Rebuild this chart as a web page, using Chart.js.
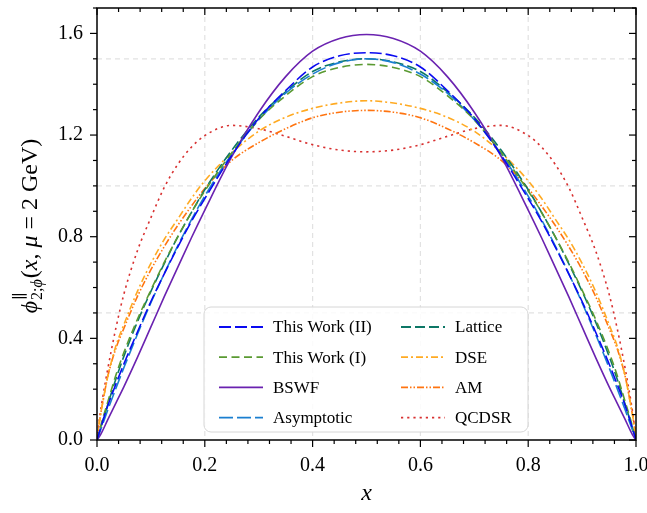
<!DOCTYPE html>
<html>
<head>
<meta charset="utf-8">
<script src="https://cdn.jsdelivr.net/npm/chart.js@4.4.0/dist/chart.umd.min.js"></script>
<style>
  html, body { margin: 0; padding: 0; background: #fff; }
  #wrap { width: 647px; height: 513px; position: relative; }
</style>
</head>
<body>
<div id="wrap"><canvas id="myChart"></canvas></div>
<script>
// ---- valores (x en [0,1]) ----
const xValues = [0, 0.005, 0.01, 0.02, 0.035, 0.05, 0.075, 0.1, 0.125, 0.15, 0.175, 0.2, 0.25, 0.3, 0.35, 0.4, 0.45, 0.5,
    0.55, 0.6, 0.65, 0.7, 0.75, 0.8, 0.825, 0.85, 0.875, 0.9, 0.925, 0.95, 0.965, 0.98, 0.99, 0.995, 1];

const thisWork2 = [0, 0.035, 0.07, 0.135, 0.22, 0.30, 0.425, 0.545, 0.655, 0.76, 0.86, 0.95, 1.12, 1.265, 1.375, 1.468, 1.512, 1.524,
    1.512, 1.468, 1.375, 1.265, 1.12, 0.95, 0.86, 0.76, 0.655, 0.545, 0.425, 0.30, 0.22, 0.135, 0.07, 0.035, 0];
const thisWork1 = [0, 0.04, 0.08, 0.15, 0.255, 0.345, 0.475, 0.59, 0.70, 0.80, 0.895, 0.98, 1.13, 1.26, 1.355, 1.43, 1.466, 1.478,
    1.466, 1.43, 1.355, 1.26, 1.13, 0.98, 0.895, 0.80, 0.70, 0.59, 0.475, 0.345, 0.255, 0.15, 0.08, 0.04, 0];
const bswf = [0, 0.015, 0.035, 0.08, 0.145, 0.21, 0.325, 0.445, 0.565, 0.68, 0.795, 0.905, 1.115, 1.29, 1.43, 1.53, 1.58, 1.596,
    1.58, 1.53, 1.43, 1.29, 1.115, 0.905, 0.795, 0.68, 0.565, 0.445, 0.325, 0.21, 0.145, 0.08, 0.035, 0.015, 0];
const asymptotic = [0, 0.03, 0.059, 0.118, 0.203, 0.285, 0.416, 0.54, 0.656, 0.765, 0.866, 0.96, 1.125, 1.26, 1.365, 1.44, 1.485, 1.50,
    1.485, 1.44, 1.365, 1.26, 1.125, 0.96, 0.866, 0.765, 0.656, 0.54, 0.416, 0.285, 0.203, 0.118, 0.059, 0.03, 0];
const lattice = [0, 0.035, 0.07, 0.14, 0.24, 0.33, 0.465, 0.585, 0.695, 0.80, 0.895, 0.985, 1.14, 1.27, 1.37, 1.45, 1.488, 1.50,
    1.488, 1.45, 1.37, 1.27, 1.14, 0.985, 0.895, 0.80, 0.695, 0.585, 0.465, 0.33, 0.24, 0.14, 0.07, 0.035, 0];
const dse = [0, 0.08, 0.14, 0.25, 0.37, 0.455, 0.585, 0.695, 0.79, 0.87, 0.95, 1.02, 1.13, 1.215, 1.27, 1.305, 1.326, 1.335,
    1.326, 1.305, 1.27, 1.215, 1.13, 1.02, 0.95, 0.87, 0.79, 0.695, 0.585, 0.455, 0.37, 0.25, 0.14, 0.08, 0];
const am = [0, 0.08, 0.14, 0.25, 0.36, 0.44, 0.565, 0.67, 0.762, 0.845, 0.92, 0.99, 1.10, 1.17, 1.225, 1.268, 1.29, 1.297,
    1.29, 1.268, 1.225, 1.17, 1.10, 0.99, 0.92, 0.845, 0.762, 0.67, 0.565, 0.44, 0.36, 0.25, 0.14, 0.08, 0];
const qcdsr = [0, 0.09, 0.16, 0.28, 0.44, 0.575, 0.745, 0.875, 0.995, 1.085, 1.152, 1.198, 1.238, 1.225, 1.195, 1.162, 1.141, 1.134,
    1.141, 1.162, 1.195, 1.225, 1.238, 1.198, 1.152, 1.085, 0.995, 0.875, 0.745, 0.575, 0.44, 0.28, 0.16, 0.09, 0];

const seriesLabels = ['This Work (II)', 'This Work (I)', 'BSWF', 'Asymptotic', 'Lattice', 'DSE', 'AM', 'QCDSR'];
const xTicks = [0, 0.2, 0.4, 0.6, 0.8, 1.0];
const yTicks = [0, 0.4, 0.8, 1.2, 1.6];
const yGridLines = [0.5, 1.0, 1.5];

const serif = '"Liberation Serif", "DejaVu Serif", serif';

// estilos de cada curva
const styles = [
    { color: '#0a0af0', dash: [12, 4] },
    { color: '#5a9a32', dash: [8, 4.5] },
    { color: '#6a22b0', dash: [] },
    { color: '#1a7fd0', dash: [14, 4] },
    { color: '#0d7766', dash: [10, 4] },
    { color: '#ffaa22', dash: [7, 3, 2, 3] },
    { color: '#ff7410', dash: [7, 2, 1.5, 2, 1.5, 2] },
    { color: '#d83030', dash: [2.2, 4] }
];
const seriesData = [thisWork2, thisWork1, bswf, asymptotic, lattice, dse, am, qcdsr];

const datasets = seriesData.map((serie, i) => ({
    label: seriesLabels[i],
    data: serie.map((y, k) => ({ x: xValues[k], y: y })),
    borderColor: styles[i].color,
    borderDash: styles[i].dash,
    borderWidth: 1.6,
    pointRadius: 0,
    fill: false,
    cubicInterpolationMode: 'monotone'
}));

// rejilla punteada, marco y marcas de los ejes
const framePlugin = {
    id: 'framePlugin',
    beforeDatasetsDraw(chart) {
        const { ctx, chartArea: a, scales: { x, y } } = chart;
        ctx.save();
        ctx.strokeStyle = '#e2e2e2';
        ctx.lineWidth = 1.2;
        ctx.setLineDash([5, 4]);
        xTicks.slice(1, -1).forEach(v => {
            const px = x.getPixelForValue(v);
            ctx.beginPath(); ctx.moveTo(px, a.top); ctx.lineTo(px, a.bottom); ctx.stroke();
        });
        yGridLines.forEach(v => {
            const py = y.getPixelForValue(v);
            ctx.beginPath(); ctx.moveTo(a.left, py); ctx.lineTo(a.right, py); ctx.stroke();
        });
        ctx.restore();
    },
    afterDatasetsDraw(chart) {
        const { ctx, chartArea: a, scales: { x, y } } = chart;
        ctx.save();
        ctx.setLineDash([]);
        ctx.strokeStyle = '#000';
        ctx.lineWidth = 1.2;
        // eje x: mayores cada 0.2, menores cada 0.04
        for (let i = 0; i <= 25; i++) {
            const px = x.getPixelForValue(i * 0.04);
            const len = i % 5 === 0 ? 7 : 4;
            ctx.beginPath(); ctx.moveTo(px, a.bottom); ctx.lineTo(px, a.bottom + len); ctx.stroke();
            ctx.beginPath(); ctx.moveTo(px, a.top); ctx.lineTo(px, a.top + len); ctx.stroke();
        }
        // eje y: mayores cada 0.4, menores cada 0.1
        for (let i = 0; i <= 17; i++) {
            const py = y.getPixelForValue(i * 0.1);
            const len = i % 4 === 0 ? 7 : 4;
            ctx.beginPath(); ctx.moveTo(a.left, py); ctx.lineTo(a.left - len, py); ctx.stroke();
            ctx.beginPath(); ctx.moveTo(a.right, py); ctx.lineTo(a.right - len, py); ctx.stroke();
        }
        ctx.lineWidth = 1.5;
        ctx.strokeRect(a.left, a.top, a.right - a.left, a.bottom - a.top);
        ctx.restore();
    },
    afterDraw(chart) {
        const { ctx, chartArea: a } = chart;
        ctx.save();
        // leyenda en dos columnas
        const bx = a.left + 107, by = a.top + 299, bw = 324, bh = 125;
        ctx.fillStyle = 'rgba(255,255,255,0.85)';
        ctx.strokeStyle = '#d6d6d6';
        ctx.lineWidth = 1;
        ctx.beginPath();
        ctx.roundRect(bx, by, bw, bh, 7);
        ctx.fill(); ctx.stroke();
        ctx.font = `17px ${serif}`;
        ctx.textBaseline = 'middle';
        chart.data.datasets.forEach((ds, i) => {
            const col = Math.floor(i / 4), row = i % 4;
            const lx = bx + 15 + col * 182;
            const ly = by + 20 + row * 30.2;
            ctx.strokeStyle = ds.borderColor;
            ctx.lineWidth = 1.8;
            ctx.setLineDash(ds.borderDash);
            ctx.beginPath(); ctx.moveTo(lx, ly); ctx.lineTo(lx + 44, ly); ctx.stroke();
            ctx.setLineDash([]);
            ctx.fillStyle = '#000';
            ctx.fillText(ds.label, lx + 54, ly + 1);
        });

        // titulo eje x
        ctx.fillStyle = '#000';
        ctx.font = `italic 24px ${serif}`;
        ctx.textAlign = 'center';
        ctx.textBaseline = 'alphabetic';
        ctx.fillText('x', (a.left + a.right) / 2, 500);

        // titulo eje y con sub/superindices
        const big = 24, small = 16;
        const fUp = s => `${s}px ${serif}`;
        const fIt = s => `italic ${s}px ${serif}`;
        const pieces = [
            { t: 'ϕ', f: fIt(big) },
            { script: true },
            { t: '(', f: fUp(big) },
            { t: 'x', f: fIt(big) },
            { t: ', ', f: fUp(big) },
            { t: 'μ', f: fIt(big) },
            { t: ' = 2 GeV)', f: fUp(big) }
        ];
        const measure = (t, f) => { ctx.font = f; return ctx.measureText(t).width; };
        const supW = measure('∥', fUp(small));
        const subW = measure('2;', fUp(small)) + measure('ϕ', fIt(small));
        let total = 0;
        pieces.forEach(p => {
            p.w = p.script ? Math.max(supW, subW) + 2 : measure(p.t, p.f);
            total += p.w;
        });
        ctx.translate(37, 226);
        ctx.rotate(-Math.PI / 2);
        ctx.textAlign = 'left';
        let cx = -total / 2;
        pieces.forEach(p => {
            if (p.script) {
                ctx.font = fUp(small);
                ctx.fillText('∥', cx + 1, -12);
                ctx.fillText('2;', cx + 1, 5);
                const w2 = measure('2;', fUp(small));
                ctx.font = fIt(small);
                ctx.fillText('ϕ', cx + 1 + w2, 5);
            } else {
                ctx.font = p.f;
                ctx.fillText(p.t, cx, 0);
            }
            cx += p.w;
        });
        ctx.restore();
    }
};

const ctx = document.querySelector('#myChart');
const grafico = new Chart(ctx, {
    type: 'line',
    data: { datasets: datasets },
    options: {
        responsive: true,
        maintainAspectRatio: false,
        animation: false,
        devicePixelRatio: 1,
        layout: { padding: { top: 8, right: 11, left: 0, bottom: 0 } },
        plugins: {
            legend: { display: false },
            tooltip: { enabled: false }
        },
        scales: {
            x: {
                type: 'linear',
                min: 0,
                max: 1,
                afterFit: (scale) => {
                    scale.height = 73;
                    scale.paddingLeft = 0;
                    scale.paddingRight = 0;
                },
                afterBuildTicks: (scale) => { scale.ticks = xTicks.map(v => ({ value: v })); },
                grid: { display: false, drawTicks: false },
                border: { display: false },
                ticks: {
                    padding: 14,
                    color: '#000',
                    font: { family: serif, size: 20 },
                    callback: (v) => Number(v).toFixed(1)
                }
            },
            y: {
                min: 0,
                max: 1.7,
                afterFit: (scale) => {
                    scale.width = 97;
                    scale.paddingTop = 0;
                    scale.paddingBottom = 0;
                },
                afterBuildTicks: (scale) => { scale.ticks = yTicks.map(v => ({ value: v })); },
                grid: { display: false, drawTicks: false },
                border: { display: false },
                ticks: {
                    padding: 14,
                    color: '#000',
                    font: { family: serif, size: 20 },
                    callback: (v) => Number(v).toFixed(1)
                }
            }
        }
    },
    plugins: [framePlugin]
});
</script>
</body>
</html>
